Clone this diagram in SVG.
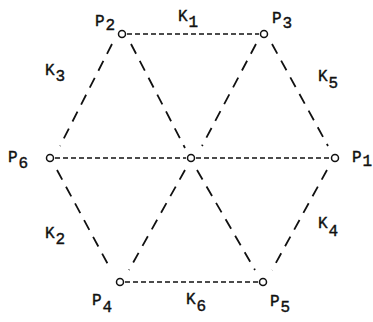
<svg xmlns="http://www.w3.org/2000/svg" width="373" height="322" viewBox="0 0 373 322">
<style>
.lbl{font-family:"Liberation Mono","DejaVu Sans Mono",monospace;font-size:16px;fill:#111;stroke:#111;stroke-width:0.4}
.h{stroke:#111;stroke-width:1.6;stroke-dasharray:5 3;fill:none}
.d{stroke:#111;stroke-width:1.8;stroke-dasharray:11 8;fill:none}
.n{fill:#fff;stroke:#111;stroke-width:1.5}
</style>
<rect width="373" height="322" fill="#fff"/>
<g id="connectors">
<line class="h" x1="127" y1="34" x2="259" y2="34"/>
<line class="h" x1="55" y1="158" x2="186" y2="158"/>
<line class="h" x1="196" y1="158" x2="330" y2="158"/>
<line class="h" x1="125" y1="282" x2="258" y2="282"/>
<line class="d" x1="112" y1="44" x2="60" y2="146"/>
<line class="d" x1="131" y1="44" x2="185" y2="148"/>
<line class="d" x1="256" y1="44" x2="202" y2="146"/>
<line class="d" x1="272" y1="44" x2="328" y2="146"/>
<line class="d" x1="57" y1="170" x2="111" y2="270"/>
<line class="d" x1="185" y1="170" x2="129" y2="270"/>
<line class="d" x1="197" y1="170" x2="255" y2="270"/>
<line class="d" x1="327" y1="170" x2="272" y2="270"/>
</g>
<g id="P2"><circle class="n" cx="122" cy="34" r="3.5"/><text class="lbl" x="95" y="26">P<tspan dx="1" dy="4">2</tspan></text></g>
<g id="P3"><circle class="n" cx="264" cy="34" r="3.5"/><text class="lbl" x="272" y="23">P<tspan dx="1" dy="5">3</tspan></text></g>
<g id="P6"><circle class="n" cx="50" cy="158" r="3.5"/><text class="lbl" x="8" y="162">P<tspan dx="1" dy="6">6</tspan></text></g>
<g id="C"><circle class="n" cx="191" cy="158" r="3.5"/></g>
<g id="P1"><circle class="n" cx="335" cy="158" r="3.5"/><text class="lbl" x="352" y="162">P<tspan dx="1" dy="4">1</tspan></text></g>
<g id="P4"><circle class="n" cx="120" cy="282" r="3.5"/><text class="lbl" x="92" y="305">P<tspan dx="1" dy="7">4</tspan></text></g>
<g id="P5"><circle class="n" cx="263" cy="282" r="3.5"/><text class="lbl" x="270" y="306">P<tspan dx="1" dy="6">5</tspan></text></g>
<g id="edge-labels">
<text class="lbl" x="178" y="21">K<tspan dx="1" dy="6">1</tspan></text>
<text class="lbl" x="45" y="75">K<tspan dx="1" dy="6">3</tspan></text>
<text class="lbl" x="318" y="81">K<tspan dx="1" dy="7">5</tspan></text>
<text class="lbl" x="45" y="238">K<tspan dx="1" dy="6">2</tspan></text>
<text class="lbl" x="318" y="228">K<tspan dx="1" dy="8">4</tspan></text>
<text class="lbl" x="186" y="304">K<tspan dx="1" dy="7">6</tspan></text>
</g>
</svg>
